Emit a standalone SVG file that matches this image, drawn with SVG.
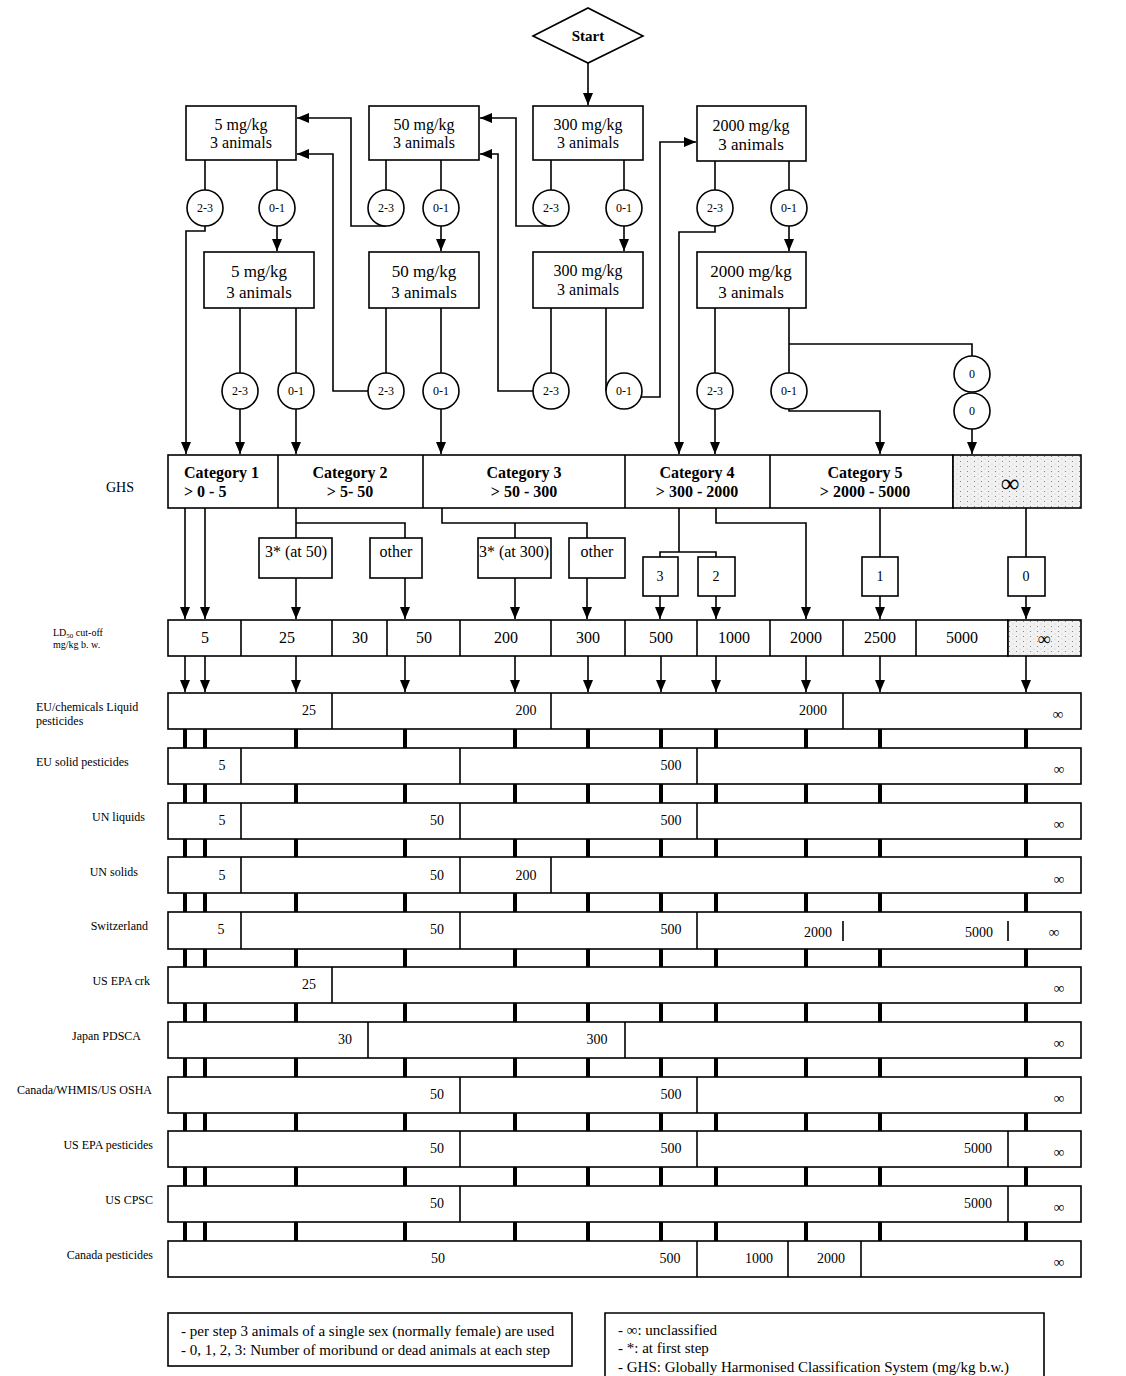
<svg xmlns="http://www.w3.org/2000/svg" width="1126" height="1376" viewBox="0 0 1126 1376">
<style>
.bx{fill:#fff;stroke:#000;stroke-width:1.6}
.ln{fill:none;stroke:#000;stroke-width:1.6}
.ar{fill:none;stroke:#000;stroke-width:1.6;marker-end:url(#ah)}
.bar{stroke:#000;stroke-width:4}
.t{font-family:"Liberation Serif","Times New Roman",serif;fill:#000}
.c{text-anchor:middle}
.e{text-anchor:end}
.f12{font-size:12px}
.f14{font-size:14px}
.f15{font-size:15px}
.f16{font-size:16px}
.f17{font-size:17px}
.b{font-weight:bold}
.stip{fill:url(#stip);stroke:#000;stroke-width:1.6}
</style>
<defs>
<marker id="ah" viewBox="0 0 12 10" refX="12" refY="5" markerWidth="12" markerHeight="10" markerUnits="userSpaceOnUse" orient="auto"><path d="M0,0 L12,5 L0,10 z" fill="#000"/></marker>
<pattern id="stip" width="7" height="5" patternUnits="userSpaceOnUse"><rect width="7" height="5" fill="#f1f1f1"/><circle cx="1.5" cy="1.5" r="0.6" fill="#777"/><circle cx="5" cy="4" r="0.4" fill="#999"/></pattern>
</defs>
<rect width="1126" height="1376" fill="#fff"/>

<g id="connectors">
<path class="bar" d="M185 729V1241M205 729V1241M296 729V1241M405 729V1241M515 729V1241M588 729V1241M661 729V1241M716 729V1241M806 729V1241M880 729V1241M1026 729V1241"/>
<path class="ar" d="M588 63V105"/>
<path class="ln" d="M205 160V190M277 160V190M386 160V190M441 160V190M551 160V190M624 160V190M715 160V190M789 160V190"/>
<path class="ln" d="M240 308V373M296 308V373M386 308V373M441 308V373M551 308V373M606 308V391M715 308V373M789 308V373"/>
<path class="ar" d="M205 226V231H186V454"/>
<path class="ar" d="M277 226V251"/>
<path class="ar" d="M386 226H351V118H297"/>
<path class="ar" d="M441 226V251"/>
<path class="ar" d="M551 226H516V118H480"/>
<path class="ar" d="M624 226V251"/>
<path class="ar" d="M715 226V232H679V454"/>
<path class="ar" d="M789 226V251"/>
<path class="ar" d="M240 409V454"/>
<path class="ar" d="M296 409V454"/>
<path class="ar" d="M368 391H333V154H297"/>
<path class="ar" d="M441 409V454"/>
<path class="ar" d="M533 391H498V154H480"/>
<path class="ar" d="M640 397H660V142H696"/>
<path class="ar" d="M715 409V454"/>
<path class="ar" d="M789 409V411H880V454"/>
<path class="ln" d="M789 344H972V356"/>
<path class="ar" d="M972 429V454"/>
<path class="ar" d="M185 508V619"/>
<path class="ar" d="M205 508V619"/>
<path class="ln" d="M296 508V538M296 523H405V538"/>
<path class="ln" d="M442 500V523H587V538M515 523V538"/>
<path class="ln" d="M679 508V552M660 557V552H716V557"/>
<path class="ar" d="M716 508V523H806V619"/>
<path class="ln" d="M880 508V557M1026 508V557"/>
<path class="ar" d="M296 578V619"/>
<path class="ar" d="M405 578V619"/>
<path class="ar" d="M515 578V619"/>
<path class="ar" d="M587 578V619"/>
<path class="ar" d="M660 596V619"/>
<path class="ar" d="M716 596V619"/>
<path class="ar" d="M880 596V619"/>
<path class="ar" d="M1026 596V619"/>
<path class="ar" d="M185 656V692"/>
<path class="ar" d="M205 656V692"/>
<path class="ar" d="M296 656V692"/>
<path class="ar" d="M405 656V692"/>
<path class="ar" d="M515 656V692"/>
<path class="ar" d="M588 656V692"/>
<path class="ar" d="M661 656V692"/>
<path class="ar" d="M716 656V692"/>
<path class="ar" d="M806 656V692"/>
<path class="ar" d="M880 656V692"/>
<path class="ar" d="M1026 656V692"/>
</g>

<g id="start"><polygon class="bx" points="533,36 588,8 643,36 588,63"/><text class="t c b f15" x="588" y="41">Start</text></g>

<g id="box-5a"><rect class="bx" x="186" y="106" width="110" height="54"/><text class="t c f16" x="241" y="130">5 mg/kg</text><text class="t c f16" x="241" y="148">3 animals</text></g>
<g id="box-50a"><rect class="bx" x="369" y="106" width="110" height="54"/><text class="t c f16" x="424" y="130">50 mg/kg</text><text class="t c f16" x="424" y="148">3 animals</text></g>
<g id="box-300a"><rect class="bx" x="533" y="106" width="110" height="54"/><text class="t c f16" x="588" y="130">300 mg/kg</text><text class="t c f16" x="588" y="148">3 animals</text></g>
<g id="box-2000a"><rect class="bx" x="697" y="106" width="109" height="55"/><text class="t c f16" x="751" y="131">2000 mg/kg</text><text class="t c f17" x="751" y="150">3 animals</text></g>

<g id="box-5b"><rect class="bx" x="204" y="252" width="110" height="56"/><text class="t c f17" x="259" y="277">5 mg/kg</text><text class="t c f17" x="259" y="298">3 animals</text></g>
<g id="box-50b"><rect class="bx" x="369" y="252" width="110" height="56"/><text class="t c f17" x="424" y="277">50 mg/kg</text><text class="t c f17" x="424" y="298">3 animals</text></g>
<g id="box-300b"><rect class="bx" x="533" y="252" width="110" height="56"/><text class="t c f16" x="588" y="276">300 mg/kg</text><text class="t c f16" x="588" y="295">3 animals</text></g>
<g id="box-2000b"><rect class="bx" x="697" y="252" width="109" height="56"/><text class="t c f17" x="751" y="277">2000 mg/kg</text><text class="t c f17" x="751" y="298">3 animals</text></g>

<g id="circles-row1">
<g id="c1a23"><circle class="bx" cx="205" cy="208" r="18"/><text class="t c f12" x="205" y="212">2-3</text></g>
<g id="c1a01"><circle class="bx" cx="277" cy="208" r="18"/><text class="t c f12" x="277" y="212">0-1</text></g>
<g id="c1b23"><circle class="bx" cx="386" cy="208" r="18"/><text class="t c f12" x="386" y="212">2-3</text></g>
<g id="c1b01"><circle class="bx" cx="441" cy="208" r="18"/><text class="t c f12" x="441" y="212">0-1</text></g>
<g id="c1c23"><circle class="bx" cx="551" cy="208" r="18"/><text class="t c f12" x="551" y="212">2-3</text></g>
<g id="c1c01"><circle class="bx" cx="624" cy="208" r="18"/><text class="t c f12" x="624" y="212">0-1</text></g>
<g id="c1d23"><circle class="bx" cx="715" cy="208" r="18"/><text class="t c f12" x="715" y="212">2-3</text></g>
<g id="c1d01"><circle class="bx" cx="789" cy="208" r="18"/><text class="t c f12" x="789" y="212">0-1</text></g>
</g>
<g id="circles-row2">
<g id="c2a23"><circle class="bx" cx="240" cy="391" r="18"/><text class="t c f12" x="240" y="395">2-3</text></g>
<g id="c2a01"><circle class="bx" cx="296" cy="391" r="18"/><text class="t c f12" x="296" y="395">0-1</text></g>
<g id="c2b23"><circle class="bx" cx="386" cy="391" r="18"/><text class="t c f12" x="386" y="395">2-3</text></g>
<g id="c2b01"><circle class="bx" cx="441" cy="391" r="18"/><text class="t c f12" x="441" y="395">0-1</text></g>
<g id="c2c23"><circle class="bx" cx="551" cy="391" r="18"/><text class="t c f12" x="551" y="395">2-3</text></g>
<g id="c2c01"><circle class="bx" cx="624" cy="391" r="18"/><text class="t c f12" x="624" y="395">0-1</text></g>
<g id="c2d23"><circle class="bx" cx="715" cy="391" r="18"/><text class="t c f12" x="715" y="395">2-3</text></g>
<g id="c2d01"><circle class="bx" cx="789" cy="391" r="18"/><text class="t c f12" x="789" y="395">0-1</text></g>
<g id="c0a"><circle class="bx" cx="972" cy="374" r="18"/><text class="t c f12" x="972" y="378">0</text></g>
<g id="c0b"><circle class="bx" cx="972" cy="411" r="18"/><text class="t c f12" x="972" y="415">0</text></g>
</g>

<g id="ghs">
<text class="t f14" x="106" y="492">GHS</text>
<rect class="bx" x="168" y="455" width="785" height="53"/>
<rect class="stip" x="953" y="455" width="128" height="53"/>
<path class="ln" d="M278 455V508M423 455V508M625 455V508M770 455V508"/>
<text class="t b f16" x="184" y="478">Category 1</text><text class="t b f16" x="184" y="497">&gt; 0 - 5</text>
<text class="t c b f16" x="350" y="478">Category 2</text><text class="t c b f16" x="350" y="497">&gt; 5- 50</text>
<text class="t c b f16" x="524" y="478">Category 3</text><text class="t c b f16" x="524" y="497">&gt; 50 - 300</text>
<text class="t c b f16" x="697" y="478">Category 4</text><text class="t c b f16" x="697" y="497">&gt; 300 - 2000</text>
<text class="t c b f16" x="865" y="478">Category 5</text><text class="t c b f16" x="865" y="497">&gt; 2000 - 5000</text>
<text class="t c" x="1010" y="492" font-size="26">∞</text>
</g>

<g id="sub-boxes">
<g id="sb-3at50"><rect class="bx" x="259" y="538" width="73" height="40"/><text class="t c f16" x="296" y="557">3* (at 50)</text></g>
<g id="sb-other1"><rect class="bx" x="370" y="538" width="52" height="40"/><text class="t c f16" x="396" y="557">other</text></g>
<g id="sb-3at300"><rect class="bx" x="478" y="538" width="73" height="40"/><text class="t c f16" x="514" y="557">3* (at 300)</text></g>
<g id="sb-other2"><rect class="bx" x="569" y="538" width="56" height="40"/><text class="t c f16" x="597" y="557">other</text></g>
<g id="sb-3"><rect class="bx" x="643" y="557" width="35" height="39"/><text class="t c f14" x="660" y="581">3</text></g>
<g id="sb-2"><rect class="bx" x="698" y="557" width="37" height="39"/><text class="t c f14" x="716" y="581">2</text></g>
<g id="sb-1"><rect class="bx" x="862" y="557" width="36" height="39"/><text class="t c f14" x="880" y="581">1</text></g>
<g id="sb-0"><rect class="bx" x="1008" y="557" width="37" height="39"/><text class="t c f14" x="1026" y="581">0</text></g>
</g>

<g id="cutoff">
<text class="t" x="53" y="636" font-size="10">LD<tspan font-size="7" dy="2">50</tspan><tspan dy="-2"> cut-off</tspan></text>
<text class="t" x="53" y="648" font-size="10">mg/kg b. w.</text>
<rect class="bx" x="168" y="620" width="840" height="36"/>
<rect class="stip" x="1008" y="620" width="73" height="36"/>
<path class="ln" d="M241 620V656M332 620V656M387 620V656M460 620V656M551 620V656M625 620V656M697 620V656M770 620V656M843 620V656M916 620V656"/>
<text class="t c f16" x="205" y="643">5</text>
<text class="t c f16" x="287" y="643">25</text>
<text class="t c f16" x="360" y="643">30</text>
<text class="t c f16" x="424" y="643">50</text>
<text class="t c f16" x="506" y="643">200</text>
<text class="t c f16" x="588" y="643">300</text>
<text class="t c f16" x="661" y="643">500</text>
<text class="t c f16" x="734" y="643">1000</text>
<text class="t c f16" x="806" y="643">2000</text>
<text class="t c f16" x="880" y="643">2500</text>
<text class="t c f16" x="962" y="643">5000</text>
<text class="t c" x="1044" y="645" font-size="18">∞</text>
</g>

<g id="row-eu-liquid">
<text class="t f12" x="36" y="711">EU/chemicals Liquid</text><text class="t f12" x="36" y="725">pesticides</text>
<rect class="bx" x="168" y="693" width="913" height="36"/>
<path class="ln" d="M332 693V729M551 693V729M843 693V729"/>
<text class="t c f14" x="309" y="715">25</text><text class="t c f14" x="526" y="715">200</text><text class="t c f14" x="813" y="715">2000</text><text class="t c f15" x="1058" y="719">∞</text>
</g>
<g id="row-eu-solid">
<text class="t f12" x="36" y="766">EU solid pesticides</text>
<rect class="bx" x="168" y="748" width="913" height="36"/>
<path class="ln" d="M241 748V784M460 748V784M697 748V784"/>
<text class="t c f14" x="222" y="770">5</text><text class="t c f14" x="671" y="770">500</text><text class="t c f15" x="1059" y="774">∞</text>
</g>
<g id="row-un-liquids">
<text class="t e f12" x="145" y="821">UN liquids</text>
<rect class="bx" x="168" y="803" width="913" height="36"/>
<path class="ln" d="M241 803V839M460 803V839M697 803V839"/>
<text class="t c f14" x="222" y="825">5</text><text class="t c f14" x="437" y="825">50</text><text class="t c f14" x="671" y="825">500</text><text class="t c f15" x="1059" y="829">∞</text>
</g>
<g id="row-un-solids">
<text class="t e f12" x="138" y="876">UN solids</text>
<rect class="bx" x="168" y="857" width="913" height="36"/>
<path class="ln" d="M241 857V893M460 857V893M551 857V893"/>
<text class="t c f14" x="222" y="880">5</text><text class="t c f14" x="437" y="880">50</text><text class="t c f14" x="526" y="880">200</text><text class="t c f15" x="1059" y="884">∞</text>
</g>
<g id="row-switzerland">
<text class="t e f12" x="148" y="930">Switzerland</text>
<rect class="bx" x="168" y="912" width="913" height="37"/>
<path class="ln" d="M241 912V949M460 912V949M697 912V949"/>
<path class="ln" d="M843 921V941M1008 921V941" stroke-width="1.8"/>
<text class="t c f14" x="221" y="934">5</text><text class="t c f14" x="437" y="934">50</text><text class="t c f14" x="671" y="934">500</text><text class="t c f14" x="818" y="937">2000</text><text class="t c f14" x="979" y="937">5000</text><text class="t c f15" x="1054" y="937">∞</text>
</g>
<g id="row-us-epa-crk">
<text class="t e f12" x="150" y="985">US EPA crk</text>
<rect class="bx" x="168" y="967" width="913" height="36"/>
<path class="ln" d="M332 967V1003"/>
<text class="t c f14" x="309" y="989">25</text><text class="t c f15" x="1059" y="993">∞</text>
</g>
<g id="row-japan">
<text class="t e f12" x="141" y="1040">Japan PDSCA</text>
<rect class="bx" x="168" y="1022" width="913" height="36"/>
<path class="ln" d="M368 1022V1058M625 1022V1058"/>
<text class="t c f14" x="345" y="1044">30</text><text class="t c f14" x="597" y="1044">300</text><text class="t c f15" x="1059" y="1048">∞</text>
</g>
<g id="row-canada-whmis">
<text class="t e f12" x="152" y="1094">Canada/WHMIS/US OSHA</text>
<rect class="bx" x="168" y="1077" width="913" height="36"/>
<path class="ln" d="M460 1077V1113M697 1077V1113"/>
<text class="t c f14" x="437" y="1099">50</text><text class="t c f14" x="671" y="1099">500</text><text class="t c f15" x="1059" y="1103">∞</text>
</g>
<g id="row-us-epa-pest">
<text class="t e f12" x="153" y="1149">US EPA pesticides</text>
<rect class="bx" x="168" y="1131" width="913" height="36"/>
<path class="ln" d="M460 1131V1167M697 1131V1167M1008 1131V1167"/>
<text class="t c f14" x="437" y="1153">50</text><text class="t c f14" x="671" y="1153">500</text><text class="t c f14" x="978" y="1153">5000</text><text class="t c f15" x="1059" y="1157">∞</text>
</g>
<g id="row-us-cpsc">
<text class="t e f12" x="153" y="1204">US CPSC</text>
<rect class="bx" x="168" y="1186" width="913" height="36"/>
<path class="ln" d="M460 1186V1222M1008 1186V1222"/>
<text class="t c f14" x="437" y="1208">50</text><text class="t c f14" x="978" y="1208">5000</text><text class="t c f15" x="1059" y="1212">∞</text>
</g>
<g id="row-canada-pest">
<text class="t e f12" x="153" y="1259">Canada pesticides</text>
<rect class="bx" x="168" y="1241" width="913" height="36"/>
<path class="ln" d="M697 1241V1277M788 1241V1277M861 1241V1277"/>
<text class="t c f14" x="438" y="1263">50</text><text class="t c f14" x="670" y="1263">500</text><text class="t c f14" x="759" y="1263">1000</text><text class="t c f14" x="831" y="1263">2000</text><text class="t c f15" x="1059" y="1267">∞</text>
</g>

<g id="legend-left">
<rect class="bx" x="168" y="1313" width="404" height="53"/>
<text class="t f15" x="181" y="1336">- per step 3 animals of a single sex (normally female) are used</text>
<text class="t f15" x="181" y="1355">- 0, 1, 2, 3: Number of moribund or dead animals at each step</text>
</g>
<g id="legend-right">
<path class="ln" d="M605 1380V1313H1044V1380"/>
<text class="t f15" x="618" y="1335">- ∞: unclassified</text>
<text class="t f15" x="618" y="1353">- *: at first step</text>
<text class="t f15" x="618" y="1372">- GHS: Globally Harmonised Classification System (mg/kg b.w.)</text>
</g>
</svg>
